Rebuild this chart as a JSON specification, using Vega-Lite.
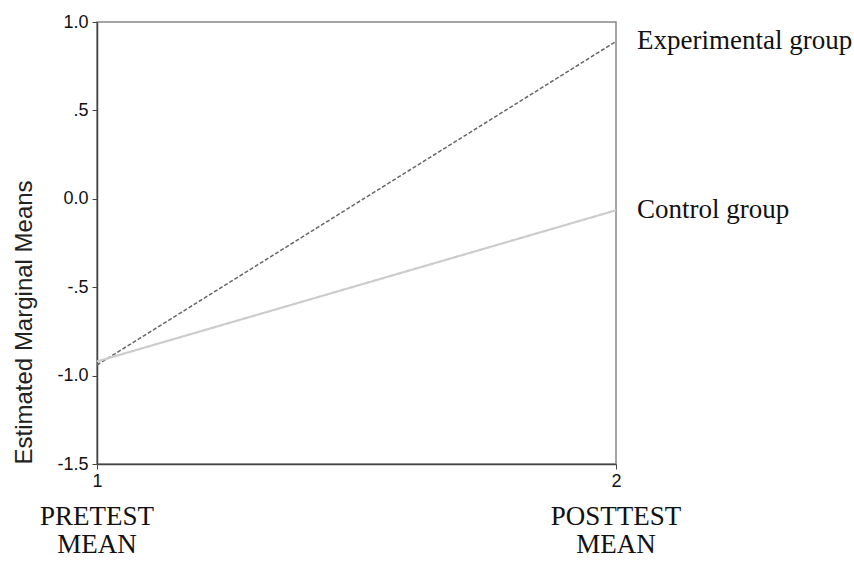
{
  "$schema": "https://vega.github.io/schema/vega-lite/v6.json",
  "width": 519,
  "height": 442,
  "autosize": {"type": "none"},
  "padding": {"left": 97, "top": 22, "right": 238, "bottom": 99},
  "background": "white",
  "config": {
    "view": {"stroke": "#888888", "strokeWidth": 1.5},
    "font": "Liberation Sans"
  },
  "datasets": {
    "means": [
      {"time": 1, "group": "Experimental group", "mean": -0.94},
      {"time": 2, "group": "Experimental group", "mean": 0.89},
      {"time": 1, "group": "Control group", "mean": -0.92},
      {"time": 2, "group": "Control group", "mean": -0.065}
    ],
    "phases": [
      {"time": 1, "label": "PRETEST\nMEAN", "base": -1.5},
      {"time": 2, "label": "POSTTEST\nMEAN", "base": -1.5}
    ]
  },
  "layer": [
    {
      "data": {"name": "means"},
      "mark": {"type": "line", "clip": false},
      "encoding": {
        "x": {
          "field": "time", "type": "quantitative",
          "scale": {"domain": [1, 2], "nice": false, "zero": false},
          "axis": {
            "values": [1, 2], "format": "d", "title": null, "grid": false,
            "domainColor": "#444444", "domainWidth": 1.5,
            "tickColor": "#444444", "tickSize": 5,
            "labelFontSize": 18, "labelColor": "#111111", "labelPadding": 3,
            "labelFlush": false
          }
        },
        "y": {
          "field": "mean", "type": "quantitative",
          "scale": {"domain": [-1.5, 1.0], "nice": false, "zero": false},
          "axis": {
            "values": [-1.5, -1, -0.5, 0, 0.5, 1],
            "labelExpr": "datum.value == 1 ? '1.0' : datum.value == 0.5 ? '.5' : datum.value == 0 ? '0.0' : datum.value == -0.5 ? '-.5' : datum.value == -1 ? '-1.0' : '-1.5'",
            "grid": false,
            "domainColor": "#444444", "domainWidth": 1.5,
            "tickColor": "#444444", "tickSize": 5,
            "labelFontSize": 18, "labelColor": "#111111", "labelPadding": 4,
            "labelFlush": false,
            "title": "Estimated Marginal Means",
            "titleFontSize": 24, "titleFontWeight": "normal", "titleColor": "#222222",
            "titleAnchor": "start", "titlePadding": 20
          }
        },
        "color": {
          "field": "group", "type": "nominal",
          "scale": {"domain": ["Experimental group", "Control group"], "range": ["#666666", "#cccccc"]},
          "legend": null
        },
        "strokeDash": {
          "field": "group", "type": "nominal",
          "scale": {"domain": ["Experimental group", "Control group"], "range": [[4, 2], [1, 0]]},
          "legend": null
        },
        "strokeWidth": {
          "field": "group", "type": "nominal",
          "scale": {"domain": ["Experimental group", "Control group"], "range": [1.5, 2.2]},
          "legend": null
        }
      }
    },
    {
      "data": {"name": "means"},
      "transform": [{"filter": "datum.time == 2"}],
      "mark": {"type": "text", "align": "left", "baseline": "middle", "dx": 21, "font": "Liberation Serif", "fontSize": 27, "color": "#111111", "clip": false},
      "encoding": {
        "x": {"field": "time", "type": "quantitative"},
        "y": {"field": "mean", "type": "quantitative"},
        "text": {"field": "group", "type": "nominal"}
      }
    },
    {
      "data": {"name": "phases"},
      "mark": {"type": "text", "align": "center", "baseline": "top", "dy": 40, "lineBreak": "\n", "lineHeight": 28, "font": "Liberation Serif", "fontSize": 27, "color": "#111111", "clip": false},
      "encoding": {
        "x": {"field": "time", "type": "quantitative"},
        "y": {"field": "base", "type": "quantitative"},
        "text": {"field": "label", "type": "nominal"}
      }
    }
  ]
}
